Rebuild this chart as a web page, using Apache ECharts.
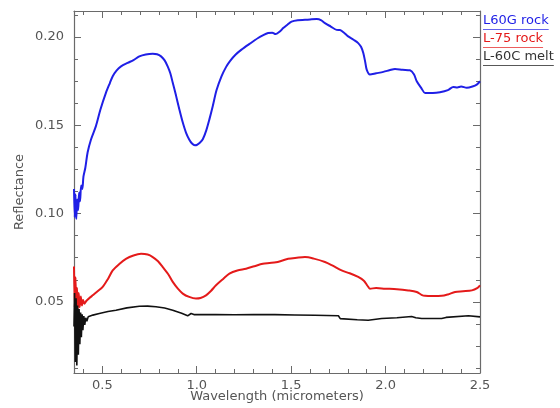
<!DOCTYPE html>
<html>
<head>
<meta charset="utf-8">
<script src="https://cdn.jsdelivr.net/npm/echarts@6/dist/echarts.min.js"></script>
<style>
  html, body { margin: 0; padding: 0; background: #fff; }
  #chart { width: 560px; height: 408px; }
</style>
</head>
<body>
<div id="chart"></div>
<script>
// 数据 --- L60G rock
const rockWave = [0.350, 0.354, 0.358, 0.362, 0.367, 0.372, 0.377, 0.382, 0.388, 0.394, 0.400, 0.410, 0.422, 0.440, 0.466, 0.490, 0.519, 0.540, 0.555, 0.575, 0.599, 0.634, 0.665, 0.696, 0.730, 0.767, 0.790, 0.811, 0.830, 0.846, 0.860, 0.873, 0.890, 0.908, 0.925, 0.943, 0.960, 0.975, 0.990, 1.000, 1.015, 1.032, 1.050, 1.067, 1.085, 1.105, 1.131, 1.155, 1.175, 1.205, 1.237, 1.280, 1.325, 1.350, 1.378, 1.400, 1.417, 1.440, 1.458, 1.480, 1.502, 1.535, 1.573, 1.600, 1.635, 1.660, 1.679, 1.710, 1.741, 1.758, 1.780, 1.802, 1.830, 1.855, 1.870, 1.882, 1.892, 1.900, 1.917, 1.950, 1.988, 2.020, 2.050, 2.090, 2.129, 2.150, 2.165, 2.190, 2.209, 2.250, 2.288, 2.330, 2.359, 2.380, 2.400, 2.430, 2.460, 2.483, 2.500]
const rockRefl = [0.114, 0.098, 0.111, 0.097, 0.108, 0.102, 0.112, 0.107, 0.116, 0.114, 0.121, 0.126, 0.1346, 0.142, 0.1496, 0.159, 0.1684, 0.174, 0.1778, 0.181, 0.1834, 0.1854, 0.187, 0.1891, 0.1902, 0.1906, 0.1903, 0.1891, 0.1868, 0.1834, 0.1795, 0.1741, 0.167, 0.159, 0.152, 0.1459, 0.1420, 0.1397, 0.1388, 0.1389, 0.1400, 0.1421, 0.1470, 0.1534, 0.161, 0.170, 0.1778, 0.183, 0.1863, 0.190, 0.1929, 0.1962, 0.1995, 0.2010, 0.2023, 0.2025, 0.2017, 0.2032, 0.2051, 0.2070, 0.2088, 0.2096, 0.2098, 0.2100, 0.2102, 0.2095, 0.2079, 0.2060, 0.2041, 0.2040, 0.2025, 0.2004, 0.1985, 0.1966, 0.1945, 0.191, 0.186, 0.1816, 0.1788, 0.1795, 0.1803, 0.1812, 0.182, 0.1815, 0.1812, 0.179, 0.175, 0.171, 0.1684, 0.1684, 0.1688, 0.170, 0.1718, 0.1715, 0.1720, 0.1713, 0.1720, 0.1731, 0.175]

// L-75 rock
const l75Wave = [0.350, 0.354, 0.358, 0.362, 0.366, 0.370, 0.375, 0.380, 0.386, 0.392, 0.398, 0.405, 0.415, 0.430, 0.449, 0.475, 0.502, 0.530, 0.555, 0.590, 0.625, 0.665, 0.705, 0.740, 0.767, 0.795, 0.820, 0.850, 0.873, 0.900, 0.926, 0.960, 0.996, 1.020, 1.049, 1.075, 1.102, 1.140, 1.173, 1.215, 1.261, 1.305, 1.350, 1.385, 1.420, 1.450, 1.484, 1.530, 1.573, 1.620, 1.679, 1.720, 1.767, 1.810, 1.855, 1.885, 1.905, 1.917, 1.950, 1.997, 2.060, 2.120, 2.165, 2.190, 2.209, 2.250, 2.297, 2.330, 2.368, 2.410, 2.457, 2.485, 2.500]
const l75Refl = [0.070, 0.047, 0.064, 0.045, 0.058, 0.046, 0.055, 0.047, 0.053, 0.048, 0.051, 0.049, 0.0505, 0.052, 0.0537, 0.056, 0.0585, 0.063, 0.0678, 0.0715, 0.0744, 0.0763, 0.0772, 0.0768, 0.0754, 0.0730, 0.0697, 0.0655, 0.0613, 0.0575, 0.0547, 0.0528, 0.0519, 0.0522, 0.0537, 0.0562, 0.0594, 0.0630, 0.066, 0.0678, 0.0688, 0.0702, 0.0716, 0.0720, 0.0724, 0.0733, 0.0744, 0.0750, 0.0754, 0.0745, 0.0726, 0.0705, 0.0678, 0.0662, 0.0641, 0.0620, 0.0590, 0.0575, 0.0578, 0.0575, 0.0572, 0.0565, 0.0556, 0.0540, 0.0534, 0.0533, 0.0534, 0.0542, 0.0556, 0.0560, 0.0565, 0.0578, 0.0594]

// L-60C melt
const meltWave = [0.350, 0.353, 0.357, 0.361, 0.365, 0.369, 0.373, 0.377, 0.381, 0.385, 0.389, 0.393, 0.397, 0.402, 0.407, 0.412, 0.418, 0.425, 0.450, 0.484, 0.530, 0.572, 0.630, 0.696, 0.740, 0.784, 0.830, 0.873, 0.920, 0.952, 0.962, 0.970, 0.985, 1.000, 1.100, 1.200, 1.300, 1.414, 1.520, 1.626, 1.750, 1.760, 1.767, 1.850, 1.908, 1.979, 2.060, 2.138, 2.160, 2.191, 2.297, 2.320, 2.330, 2.439, 2.500]
const meltRefl = [0.036, 0.055, 0.016, 0.052, 0.014, 0.048, 0.020, 0.046, 0.026, 0.044, 0.030, 0.043, 0.034, 0.042, 0.037, 0.041, 0.039, 0.0415, 0.0425, 0.0434, 0.0445, 0.0453, 0.0466, 0.0475, 0.0476, 0.0472, 0.0465, 0.0453, 0.0435, 0.0421, 0.0425, 0.0434, 0.0428, 0.0428, 0.0428, 0.0427, 0.0428, 0.0428, 0.0426, 0.0424, 0.0421, 0.0405, 0.0402, 0.0399, 0.0396, 0.0406, 0.0410, 0.0417, 0.0410, 0.0406, 0.0406, 0.0412, 0.0417, 0.0421, 0.0415]

// 刻度
const xMajorTicks = [0.5, 1.0, 1.5, 2.0, 2.5]
const xMinorTicks = [0.4, 0.6, 0.7, 0.8, 0.9, 1.1, 1.2, 1.3, 1.4, 1.6, 1.7, 1.8, 1.9, 2.1, 2.2, 2.3, 2.4]
const yMajorTicks = [0.05, 0.10, 0.15, 0.20]
const yMinorTicks = [0.0125, 0.025, 0.0375, 0.0625, 0.075, 0.0875, 0.1125, 0.125, 0.1375, 0.1625, 0.175, 0.1875, 0.2125]

const legendNames = ['L60G rock', 'L-75 rock', 'L-60C melt']
const seriesColors = ['#1f1fe6', '#e41a1a', '#111111']

const FONT = '"DejaVu Sans", sans-serif'
const frameColor = '#6a6a6a'
const textColor = '#555'

const zip = (xs, ys) => xs.map((x, i) => [x, ys[i]])

// 坐标轴工厂：主刻度 / 次刻度，四条边都画
const makeAxis = (dim, position, ticks, len, opts = {}) => ({
  type: 'value',
  position,
  min: dim === 'x' ? 0.35 : 0.0097,
  max: dim === 'x' ? 2.5 : 0.2148,
  axisLine: { show: opts.line || false, lineStyle: { color: frameColor, width: 1.2 } },
  axisTick: { show: true, inside: true, length: len, customValues: ticks, lineStyle: { color: frameColor, width: 1 } },
  axisLabel: { show: false },
  splitLine: { show: false },
  ...(opts.extra || {})
})

const chart = echarts.init(document.getElementById('chart'))

const xLabelled = makeAxis('x', 'bottom', xMajorTicks, 7, {
  line: true,
  extra: {
    name: 'Wavelength (micrometers)',
    nameLocation: 'middle',
    nameGap: 17,
    nameMoveOverlap: false,
    nameTextStyle: { color: textColor, fontFamily: FONT, fontSize: 13 }
  }
})
xLabelled.axisLabel = {
  show: true, customValues: xMajorTicks, margin: 6,
  color: textColor, fontFamily: FONT, fontSize: 13,
  formatter: v => v.toFixed(1)
}

const yLabelled = makeAxis('y', 'left', yMajorTicks, 7, {
  line: true,
  extra: {
    name: 'Reflectance',
    nameLocation: 'middle',
    nameGap: 48,
    nameMoveOverlap: false,
    nameTextStyle: { color: textColor, fontFamily: FONT, fontSize: 13 }
  }
})
yLabelled.axisLabel = {
  show: true, customValues: yMajorTicks, margin: 10,
  color: textColor, fontFamily: FONT, fontSize: 13,
  formatter: v => v.toFixed(2)
}

// 图例（带下划线的文字）
const measure = document.createElement('canvas').getContext('2d')
measure.font = '13px ' + FONT
const legendGraphics = []
legendNames.forEach((name, i) => {
  const top = 14 + i * 18
  const w = measure.measureText(name).width
  legendGraphics.push({
    type: 'text', x: 483, y: top,
    style: { text: name, fill: seriesColors[i] === '#111111' ? '#333' : seriesColors[i], font: '13px ' + FONT, textVerticalAlign: 'top' }
  })
  legendGraphics.push({
    type: 'line',
    shape: { x1: 483, y1: top + 15.5, x2: 483 + w, y2: top + 15.5 },
    style: { stroke: seriesColors[i], lineWidth: 1, opacity: 0.7 }
  })
})

const option = {
  animation: false,
  backgroundColor: '#fff',
  grid: { left: 74, right: 80, top: 11, bottom: 33 },
  xAxis: [
    xLabelled,
    makeAxis('x', 'bottom', xMinorTicks, 4),
    makeAxis('x', 'top', xMajorTicks, 7, { line: true }),
    makeAxis('x', 'top', xMinorTicks, 4)
  ],
  yAxis: [
    yLabelled,
    makeAxis('y', 'left', yMinorTicks, 4),
    makeAxis('y', 'right', yMajorTicks, 7, { line: true }),
    makeAxis('y', 'right', yMinorTicks, 4)
  ],
  graphic: legendGraphics,
  series: [
    {
      name: legendNames[0], type: 'line', showSymbol: false, smooth: 0.3,
      data: zip(rockWave, rockRefl),
      lineStyle: { color: seriesColors[0], width: 2 }
    },
    {
      name: legendNames[1], type: 'line', showSymbol: false, smooth: 0.3,
      data: zip(l75Wave, l75Refl),
      lineStyle: { color: seriesColors[1], width: 2 }
    },
    {
      name: legendNames[2], type: 'line', showSymbol: false, smooth: false,
      data: zip(meltWave, meltRefl),
      lineStyle: { color: seriesColors[2], width: 1.6 }
    }
  ]
}

chart.setOption(option)
</script>
</body>
</html>
